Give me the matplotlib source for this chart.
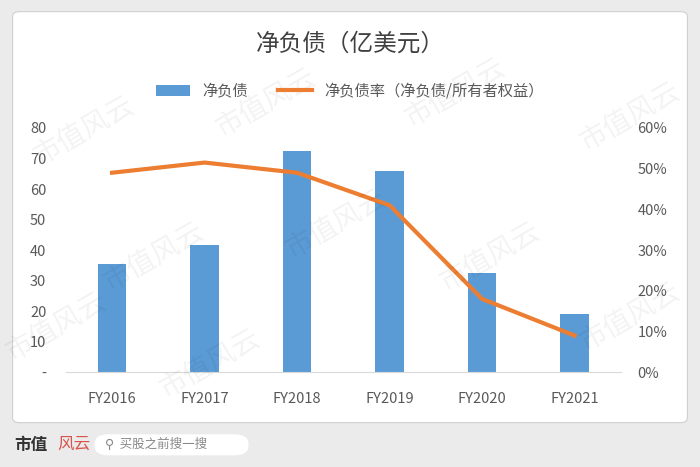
import matplotlib.pyplot as plt
import matplotlib.patches as mpatches
from matplotlib.ticker import FuncFormatter

plt.rcParams['font.family'] = ['Noto Sans CJK SC', 'DejaVu Sans']

years = ["FY2016", "FY2017", "FY2018", "FY2019", "FY2020", "FY2021"]
net_debt = [35.5, 41.5, 72.5, 66.0, 32.5, 19.0]
debt_ratio = [0.49, 0.515, 0.49, 0.41, 0.18, 0.09]

fig = plt.figure(figsize=(7, 4.67), dpi=100)
fig.patch.set_facecolor('#ebebeb')
fig.add_artist(mpatches.FancyBboxPatch((0.018, 0.095), 0.964, 0.88,
               boxstyle="round,pad=0,rounding_size=0.01", transform=fig.transFigure,
               facecolor='white', edgecolor='#d0d0d0', lw=0.8, zorder=0))

# faint watermarks
for (wx, wy) in [(0.12, 0.72), (0.22, 0.45), (0.38, 0.78), (0.48, 0.52), (0.65, 0.8),
                 (0.7, 0.45), (0.9, 0.75), (0.9, 0.32), (0.08, 0.3), (0.3, 0.22)]:
    fig.text(wx, wy, "市值风云", rotation=30, fontsize=20, color='#000000', alpha=0.05,
             ha='center', va='center')

ax = fig.add_axes([0.094, 0.203, 0.793, 0.523])
x = list(range(len(years)))
ax.bar(x, net_debt, width=0.31, color='#5b9bd5', label='净负债', zorder=2)
ax.set_ylim(0, 80)
ax.set_xlim(-0.5, 5.5)
ax.set_yticks(range(0, 81, 10))
ax.yaxis.set_major_formatter(FuncFormatter(lambda v, p: '-' if v == 0 else f'{int(v)}'))
ax.set_xticks(x)
ax.set_xticklabels(years)
ax.tick_params(length=0, labelsize=10.5, colors='#595959')
ax.tick_params(axis='x', pad=14)
ax.tick_params(axis='y', pad=14)
for s in ['top', 'right', 'left']:
    ax.spines[s].set_visible(False)
ax.spines['bottom'].set_color('#d9d9d9')

ax2 = ax.twinx()
ax2.plot(x, debt_ratio, color='#ed7d31', lw=3, label='净负债率（净负债/所有者权益）', zorder=3)
ax2.set_ylim(0, 0.6)
ax2.set_yticks([i / 10 for i in range(7)])
ax2.yaxis.set_major_formatter(FuncFormatter(lambda v, p: f'{v:.0%}'))
ax2.tick_params(length=0, labelsize=10.5, colors='#595959', pad=12)
for s in ['top', 'right', 'left', 'bottom']:
    ax2.spines[s].set_visible(False)

fig.text(0.5, 0.905, "净负债（亿美元）", ha='center', va='center', fontsize=17, color='#404040')
h1, l1 = ax.get_legend_handles_labels()
h2, l2 = ax2.get_legend_handles_labels()
fig.legend(h1 + h2, l1 + l2, loc='center', bbox_to_anchor=(0.5, 0.805), ncol=2,
           frameon=False, fontsize=11, labelcolor='#595959', handlelength=2.2, columnspacing=2)

# bottom brand strip
fig.text(0.02, 0.048, "市值", fontsize=12, fontweight='bold', color='#333333', va='center')
fig.text(0.082, 0.048, "风云", fontsize=12, color='#d9534f', style='italic', va='center')
fig.add_artist(mpatches.FancyBboxPatch((0.135, 0.025), 0.22, 0.045,
               boxstyle="round,pad=0,rounding_size=0.02", transform=fig.transFigure,
               facecolor='white', edgecolor='none'))
fig.text(0.15, 0.048, "⚲  买股之前搜一搜", fontsize=9, color='#888888', va='center')

fig.savefig('out.png', dpi=100, facecolor=fig.get_facecolor())
